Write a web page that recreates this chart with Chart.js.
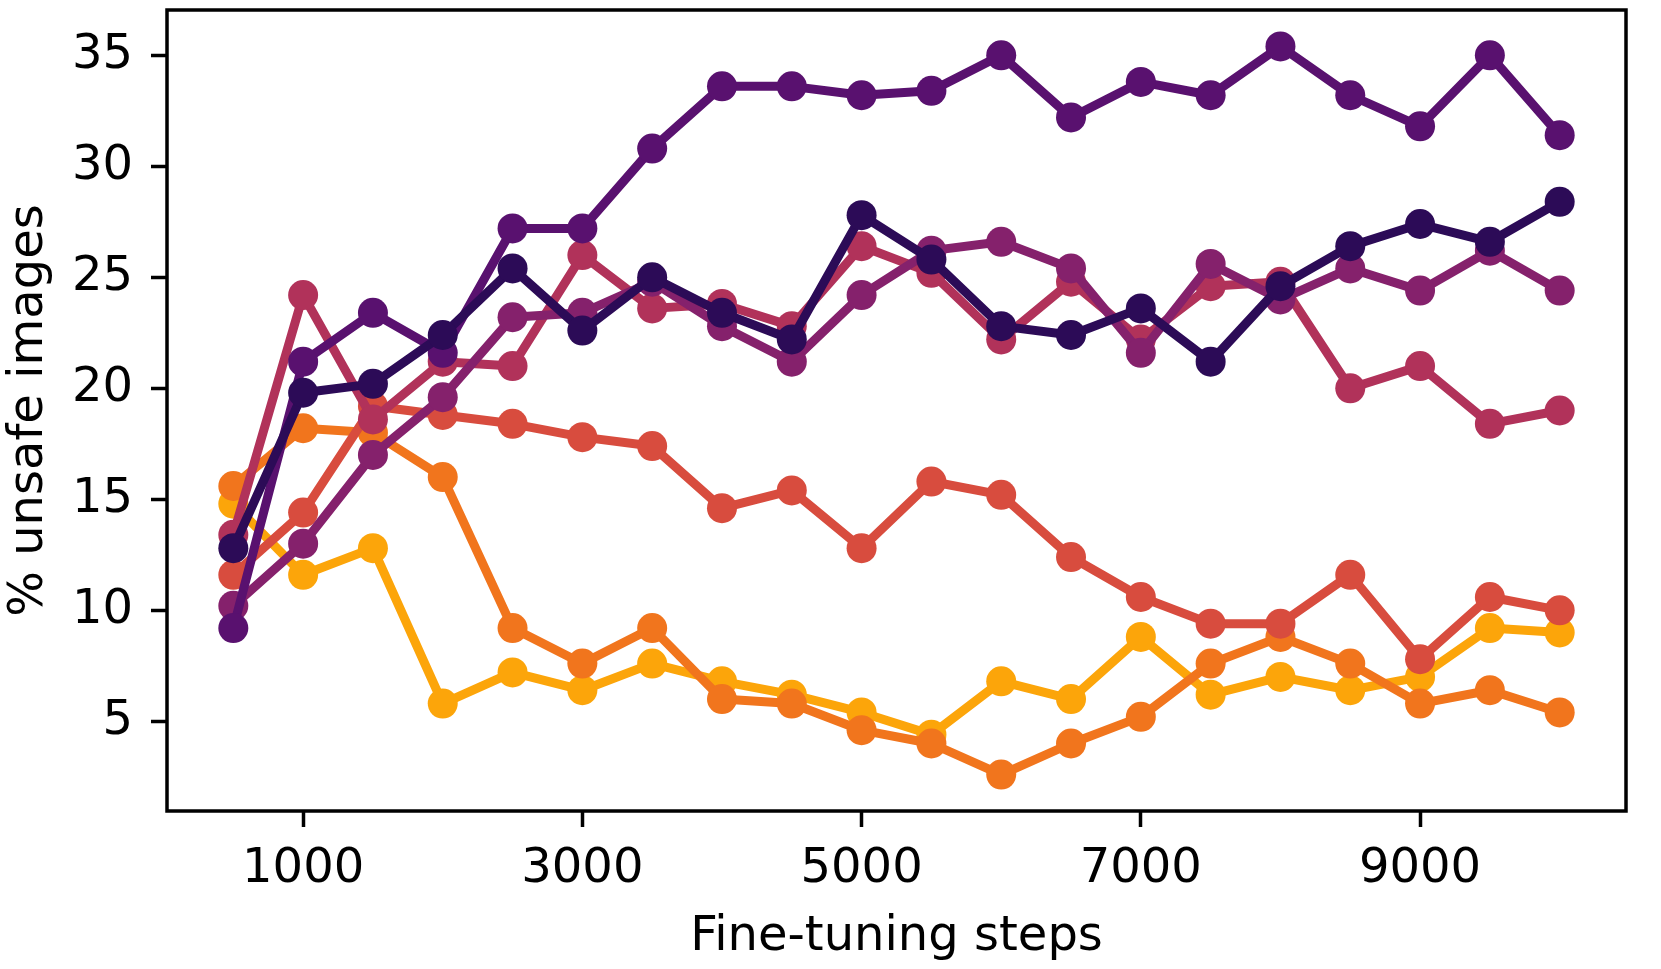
<!DOCTYPE html>
<html>
<head>
<meta charset="utf-8">
<title>% unsafe images vs fine-tuning steps</title>
<script src="https://cdn.jsdelivr.net/npm/chart.js@4.4.1/dist/chart.umd.min.js"></script>
<style>
    html, body { margin: 0; padding: 0; background: #fff; }
    #wrap { width: 1661px; height: 969px; }
</style>
</head>
<body>
<div id="wrap"><canvas id="unsafe-chart" width="1661" height="969"></canvas></div>
<script>
'use strict';

// x values and tick labels
var steps = [500, 1000, 1500, 2000, 2500, 3000, 3500, 4000, 4500, 5000,
             5500, 6000, 6500, 7000, 7500, 8000, 8500, 9000, 9500, 10000];
var xTicks = [1000, 3000, 5000, 7000, 9000];
var yTicks = [5, 10, 15, 20, 25, 30, 35];

// one run per line (darkest first)
var runDark    = [12.8, 19.8, 20.2, 22.4, 25.4, 22.6, 25.0, 23.4, 22.2, 27.8, 25.8, 22.8, 22.4, 23.6, 21.2, 24.6, 26.4, 27.4, 26.6, 28.4];
var runPurple  = [9.2, 21.2, 23.4, 21.6, 27.2, 27.2, 30.8, 33.6, 33.6, 33.2, 33.4, 35.0, 32.2, 33.8, 33.2, 35.4, 33.2, 31.8, 35.0, 31.4];
var runMagenta = [10.2, 13.0, 17.0, 19.6, 23.2, 23.4, 24.8, 22.8, 21.2, 24.2, 26.2, 26.6, 25.4, 21.6, 25.6, 24.0, 25.4, 24.4, 26.2, 24.4];
var runRose    = [13.4, 24.2, 18.6, 21.2, 21.0, 26.0, 23.6, 23.8, 22.8, 26.4, 25.2, 22.2, 24.8, 22.2, 24.6, 24.8, 20.0, 21.0, 18.4, 19.0];
var runRed     = [11.6, 14.4, 19.2, 18.8, 18.4, 17.8, 17.4, 14.6, 15.4, 12.8, 15.8, 15.2, 12.4, 10.6, 9.4, 9.4, 11.6, 7.8, 10.6, 10.0];
var runOrange  = [15.6, 18.2, 18.0, 16.0, 9.2, 7.6, 9.2, 6.0, 5.8, 4.6, 4.0, 2.6, 4.0, 5.2, 7.6, 8.8, 7.6, 5.8, 6.4, 5.4];
var runYellow  = [14.8, 11.6, 12.8, 5.8, 7.2, 6.4, 7.6, 6.8, 6.2, 5.4, 4.4, 6.8, 6.0, 8.8, 6.2, 7.0, 6.4, 7.0, 9.2, 9.0];

var runs = [runDark, runPurple, runMagenta, runRose, runRed, runOrange, runYellow];
var colors = ['#2c0b57', '#59116f', '#85216c', '#b1325a', '#d84c3e', '#f1751d', '#fca50a'];

Chart.defaults.font.family = "'DejaVu Sans', sans-serif";
Chart.defaults.color = '#000';

// matplotlib style box round the plot area
var frameBox = {
    id: 'frameBox',
    afterDraw: function (chart) {
        var a = chart.chartArea;
        var c = chart.ctx;
        c.save();
        c.strokeStyle = '#000';
        c.lineWidth = 3.5;
        c.strokeRect(a.left, a.top, a.right - a.left, a.bottom - a.top);
        c.restore();
    }
};

function fixTicks(values) {
    return function (scale) {
        scale.ticks = values.map(function (v) { return { value: v }; });
    };
}

function noPad(scale) {
    scale.paddingLeft = 0;
    scale.paddingRight = 0;
    scale.paddingTop = 0;
    scale.paddingBottom = 0;
}

var datasets = runs.map(function (run, i) {
    return {
        data: steps.map(function (s, j) { return { x: s, y: run[j] }; }),
        borderColor: colors[i],
        backgroundColor: colors[i],
        pointBackgroundColor: colors[i],
        pointBorderWidth: 0,
        pointRadius: 15,
        borderWidth: 9,
        borderJoinStyle: 'round',
        tension: 0
    };
});

var ctx = document.getElementById('unsafe-chart');
var chart = new Chart(ctx, {
    type: 'line',
    data: { datasets: datasets },
    plugins: [frameBox],
    options: {
        responsive: false,
        animation: false,
        devicePixelRatio: 1,
        layout: {
            autoPadding: false,
            padding: { left: 0, top: 10, right: 35, bottom: 0 }
        },
        plugins: {
            legend: { display: false },
            tooltip: { enabled: false }
        },
        scales: {
            x: {
                type: 'linear',
                min: 25,
                max: 10475,
                afterBuildTicks: fixTicks(xTicks),
                afterFit: function (scale) {
                    scale.height = 158;
                    noPad(scale);
                },
                border: { display: false },
                grid: {
                    drawOnChartArea: false,
                    drawTicks: true,
                    tickLength: 16,
                    tickWidth: 3.5,
                    tickColor: '#000'
                },
                ticks: {
                    autoSkip: false,
                    maxRotation: 0,
                    padding: 14,
                    font: { size: 48 },
                    callback: function (v) { return String(v); }
                },
                title: {
                    display: true,
                    text: 'Fine-tuning steps',
                    font: { size: 48, lineHeight: 1.2 },
                    padding: { top: 0, bottom: 3 }
                }
            },
            y: {
                type: 'linear',
                min: 0.96,
                max: 37.04,
                afterBuildTicks: fixTicks(yTicks),
                afterFit: function (scale) {
                    scale.width = 167;
                    noPad(scale);
                },
                border: { display: false },
                grid: {
                    drawOnChartArea: false,
                    drawTicks: true,
                    tickLength: 16,
                    tickWidth: 3.5,
                    tickColor: '#000'
                },
                ticks: {
                    autoSkip: false,
                    padding: 18,
                    font: { size: 48 },
                    callback: function (v) { return String(v); }
                },
                title: {
                    display: true,
                    text: '% unsafe images',
                    font: { size: 48, lineHeight: 1.2 },
                    padding: { top: 1, bottom: 0 }
                }
            }
        }
    }
});
</script>
</body>
</html>
